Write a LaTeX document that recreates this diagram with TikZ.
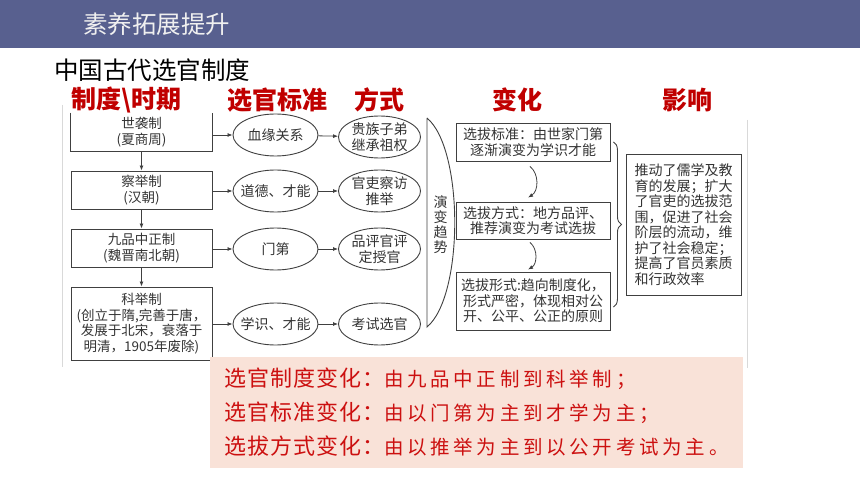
\documentclass[tikz,border=0pt]{standalone}
\usepackage{fontspec}
\setmainfont{Noto Sans CJK SC}
\usetikzlibrary{shapes.geometric,decorations.pathreplacing,arrows.meta}
\definecolor{barblue}{HTML}{58608F}
\definecolor{headred}{HTML}{C00000}
\definecolor{notered}{HTML}{CC1010}
\definecolor{notepink}{HTML}{F9E2D8}
\definecolor{linegray}{HTML}{404040}
\newcommand\notehead[1]{{\fontsize{22}{34}\selectfont\addfontfeature{LetterSpace=4}#1}}
\newcommand\notebody[1]{{\fontsize{19.5}{34}\selectfont\addfontfeature{LetterSpace=19}#1}}
\begin{document}
\begin{tikzpicture}[x=1pt,y=-1pt,
  every node/.style={inner sep=0pt},
  arr/.style={-{Latex[length=5pt,width=4pt]},linegray,line width=0.8pt},
  colhead/.style={text=headred,font=\fontsize{25}{28}\selectfont\bfseries},
  sysbox/.style={draw=linegray,line width=0.9pt,minimum width=141pt,align=center,text=black!80,font=\fontsize{13.5}{15.5}\selectfont},
  crit/.style={ellipse,draw=linegray,line width=0.9pt,minimum width=85pt,minimum height=42pt,inner sep=-10pt,align=center,text=black!80,font=\fontsize{14}{15.5}\selectfont},
  chgbox/.style={draw=linegray,line width=0.9pt,minimum width=154pt,align=center,text=black!80,font=\fontsize{14}{15.5}\selectfont}]
\useasboundingbox (0,0) rectangle (860,484);
\fill [barblue] (0,0) rectangle (860,48);
\node [anchor=west,text=white!94!black,font=\fontsize{24.5}{28}\selectfont] (title) at (83,24) {素养拓展提升};
\node [anchor=west,font=\fontsize{24.5}{28}\selectfont] (heading) at (54,70) {中国古代选官制度};
\node [colhead] (hsys) at (126.5,100) {制度\textbackslash 时期};
\node [colhead] (hcrit) at (277,100) {选官标准};
\node [colhead] (hway) at (379,100) {方式};
\node [colhead] (hchg) at (517,100) {变化};
\node [colhead] (himp) at (687,100) {影响};
\draw [black!15,line width=1pt] (62,105) -- (62,367);
\draw [black!15,line width=1pt] (747,120) -- (747,368);
\node [sysbox,draw=none,minimum height=38pt] (box1) at (141.5,132) {世袭制\\(夏商周)};
\draw [linegray,line width=0.9pt] (box1.north west) -- (box1.south west) -- (box1.south east) -- (box1.north east);
\node [sysbox,minimum height=38pt] (box2) at (141.5,190) {察举制\\(汉朝)};
\node [sysbox,minimum height=38pt] (box3) at (141.5,248) {九品中正制\\(魏晋南北朝)};
\node [sysbox,minimum height=73pt] (box4) at (141.5,323.5) {科举制\\(创立于隋,完善于唐，\\发展于北宋，衰落于\\明清，1905年废除)};
\draw [arr] (box1.south) -- (box2.north);
\draw [arr] (box2.south) -- (box3.north);
\draw [arr] (box3.south) -- (box4.north);
\node [crit] (e1) at (275.5,135) {血缘关系};
\node [crit] (e2) at (275.5,191) {道德、才能};
\node [crit] (e3) at (275.5,249) {门第};
\node [crit] (e4) at (275.5,324) {学识、才能};
\node [crit,minimum width=82pt] (f1) at (379.5,137) {贵族子弟\\继承祖权};
\node [crit,minimum width=82pt] (f2) at (379.5,191) {官吏察访\\推举};
\node [crit,minimum width=82pt] (f3) at (379.5,249) {品评官评\\定授官};
\node [crit,minimum width=82pt] (f4) at (379.5,324) {考试选官};
\draw [arr] (box1.east |- e1) -- (e1);
\draw [arr] (box2.east |- e2) -- (e2);
\draw [arr] (box3.east |- e3) -- (e3);
\draw [arr] (box4.east |- e4) -- (e4);
\draw [arr] (e1) -- (f1);
\draw [arr] (e2) -- (f2);
\draw [arr] (e3) -- (f3);
\draw [arr] (e4) -- (f4);
\coordinate (trtop) at (427,118);
\coordinate (trbot) at (427,327);
\draw [linegray,line width=0.9pt] (trtop) -- (trbot) .. controls (464,296) and (464,149) .. (trtop);
\node [align=center,text=black!80,font=\fontsize{14}{15}\selectfont] (trend) at (440.5,225) {演\\变\\趋\\势};
\node [chgbox,minimum height=38pt] (chA) at (533,142) {选拔标准：由世家门第\\逐渐演变为学识才能};
\node [chgbox,minimum height=37pt] (chB) at (533,220.5) {选拔方式：地方品评、\\推荐演变为考试选拔};
\node [chgbox,minimum height=58pt] (chC) at (533,301) {选拔形式:趋向制度化，\\形式严密，体现相对公\\开、公平、公正的原则};
\draw [arr] ([xshift=-3pt,yshift=-5pt]chA.south) to [bend left=55] ([xshift=-5pt,yshift=4pt]chB.north);
\draw [arr] ([xshift=-3pt,yshift=-3pt]chB.south) to [bend left=55] ([xshift=-5pt,yshift=2pt]chC.north);
\draw [linegray,line width=0.9pt,decorate,decoration={brace,amplitude=8pt}] ([xshift=3pt]chA.east) -- ([xshift=3pt,yshift=-6pt]chC.east);
\node [draw=linegray,line width=0.9pt,minimum width=115pt,minimum height=141pt,align=left,text=black!80,font=\fontsize{14}{15.5}\selectfont] (imp) at (683.5,224.5) {推动了儒学及教\\育的发展；扩大\\了官吏的选拔范\\围，促进了社会\\阶层的流动，维\\护了社会稳定；\\提高了官员素质\\和行政效率};
\node [anchor=west,fill=notepink,inner xsep=14pt,minimum width=533pt,minimum height=111pt,align=left,text=notered,font=\fontsize{22}{34}\selectfont] (note) at (210,412.5) {\notehead{选官制度变化：}\notebody{由九品中正制到科举制；}\\\notehead{选官标准变化：}\notebody{由以门第为主到才学为主；}\\\notehead{选拔方式变化：}\notebody{由以推举为主到以公开考试为主。}};
\end{tikzpicture}
\end{document}
